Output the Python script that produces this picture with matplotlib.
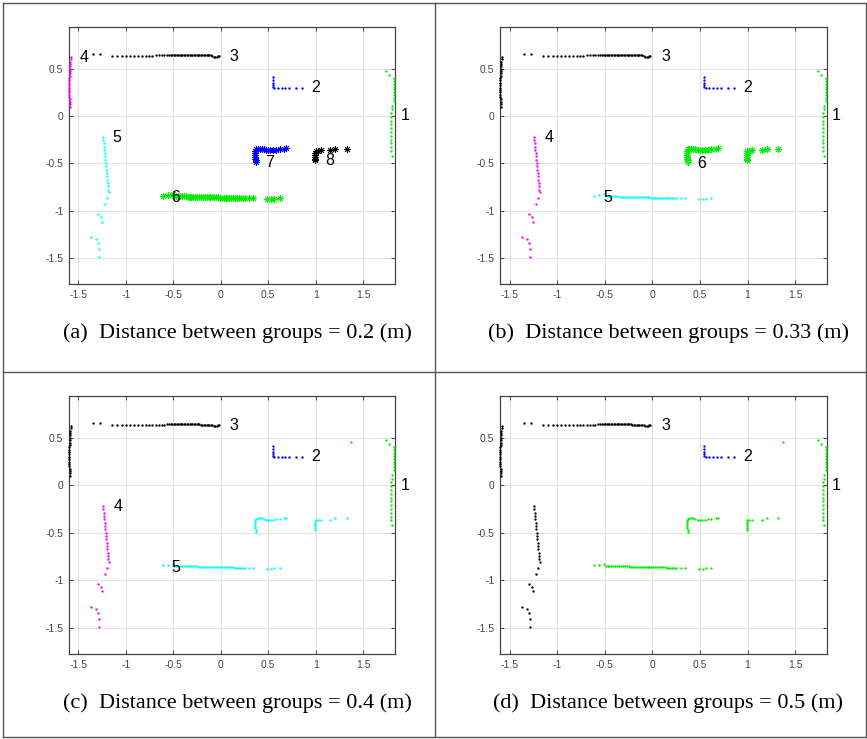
import matplotlib
matplotlib.use("Agg")
import matplotlib.pyplot as plt
from matplotlib.lines import Line2D

# ---------------- data (metres) ----------------
left_wall_x = [-1.582, -1.583, -1.585, -1.586, -1.588, -1.590, -1.591, -1.592, -1.594, -1.595, -1.596,
               -1.597, -1.598, -1.598, -1.597, -1.596, -1.596, -1.595, -1.594, -1.593, -1.592, -1.592]
left_wall_y = [0.625, 0.600, 0.575, 0.550, 0.525, 0.500, 0.475, 0.450, 0.425, 0.400, 0.375,
               0.350, 0.325, 0.300, 0.275, 0.250, 0.225, 0.200, 0.175, 0.150, 0.125, 0.100]

top_wall_x = [-1.350, -1.270, -1.151, -1.095, -1.046, -1.003, -0.961, -0.916, -0.877, -0.835, -0.793,
              -0.758, -0.723, -0.688, -0.653, -0.624, -0.597, -0.568, -0.547, -0.526,
              -0.510, -0.495, -0.480, -0.465, -0.450, -0.435, -0.420, -0.405, -0.390, -0.375,
              -0.360, -0.345, -0.330, -0.315, -0.300, -0.285, -0.270, -0.255, -0.240, -0.225,
              -0.210, -0.195, -0.180, -0.165, -0.150, -0.135, -0.120, -0.105,
              -0.090, -0.075, -0.060, -0.045, -0.030, -0.020]
top_wall_y = [0.660, 0.660, 0.633, 0.634, 0.634, 0.635, 0.635, 0.636, 0.636, 0.637, 0.637,
              0.638, 0.638, 0.639, 0.639, 0.640, 0.640, 0.641, 0.641, 0.642,
              0.645, 0.646, 0.645, 0.645, 0.644, 0.644, 0.644, 0.643, 0.643, 0.643,
              0.643, 0.642, 0.642, 0.642, 0.642, 0.641, 0.641, 0.641, 0.641, 0.641,
              0.640, 0.640, 0.640, 0.640, 0.640, 0.640, 0.639, 0.639,
              0.632, 0.627, 0.625, 0.626, 0.630, 0.635]

right_wall_x = [1.745, 1.768, 1.826, 1.826, 1.826, 1.825, 1.825, 1.825, 1.824, 1.824, 1.824,
                1.800, 1.799, 1.798, 1.798, 1.797, 1.797, 1.797, 1.797, 1.797, 1.797, 1.798,
                1.798, 1.798, 1.799]
right_wall_y = [0.477, 0.435, 0.400, 0.370, 0.340, 0.310, 0.280, 0.250, 0.220, 0.190, 0.160,
                0.110, 0.070, 0.030, -0.010, -0.050, -0.090, -0.130, -0.170, -0.210, -0.250, -0.290,
                -0.330, -0.370, -0.420]

stray_x = [1.375]
stray_y = [0.456]

corner_x = [0.545, 0.545, 0.545, 0.545, 0.545, 0.560, 0.600, 0.640, 0.680, 0.720, 0.790, 0.860]
corner_y = [0.410, 0.380, 0.350, 0.330, 0.310, 0.300, 0.295, 0.295, 0.295, 0.300, 0.300, 0.300]

post_x = [-1.239, -1.239, -1.235, -1.232, -1.228, -1.225, -1.221, -1.218, -1.214, -1.211, -1.207,
          -1.204, -1.200, -1.197, -1.193, -1.190, -1.186, -1.179,
          -1.200, -1.224, -1.292, -1.260, -1.253, -1.368, -1.316, -1.295, -1.284, -1.284]
post_y = [-0.218, -0.253, -0.288, -0.323, -0.358, -0.393, -0.428, -0.463, -0.498, -0.533, -0.568,
          -0.604, -0.639, -0.674, -0.709, -0.744, -0.779, -0.807,
          -0.870, -0.930, -1.038, -1.067, -1.116, -1.280, -1.298, -1.347, -1.407, -1.488]

bottom_x = [-0.613, -0.561, -0.509,
            -0.49, -0.47, -0.45, -0.43, -0.41, -0.39, -0.37, -0.35, -0.33, -0.31, -0.29, -0.27, -0.25,
            -0.23, -0.21, -0.19, -0.17, -0.15, -0.13, -0.11, -0.09, -0.07, -0.05, -0.03, -0.01, 0.01,
            0.03, 0.05, 0.07, 0.09, 0.11, 0.13, 0.15, 0.17, 0.19, 0.21, 0.23, 0.25,
            0.30, 0.34, 0.49, 0.53, 0.56, 0.62]
bottom_y = [-0.842, -0.835, -0.826,
            -0.846, -0.847, -0.847, -0.848, -0.849, -0.849, -0.850, -0.851, -0.851, -0.852, -0.853,
            -0.853, -0.854, -0.855, -0.855, -0.856, -0.857, -0.857, -0.858, -0.859, -0.859, -0.860,
            -0.860, -0.861, -0.862, -0.862, -0.862, -0.863, -0.863, -0.864, -0.864, -0.864, -0.865,
            -0.865, -0.865, -0.866, -0.866, -0.866,
            -0.866, -0.866, -0.877, -0.877, -0.874, -0.868]

bench1_x = [0.360, 0.360, 0.360, 0.360, 0.365, 0.370, 0.370,
            0.370, 0.390, 0.410, 0.430, 0.450, 0.480, 0.500, 0.520, 0.550, 0.580, 0.620, 0.670, 0.690]
bench1_y = [-0.370, -0.390, -0.410, -0.430, -0.450, -0.470, -0.490,
            -0.350, -0.345, -0.345, -0.345, -0.350, -0.360, -0.360, -0.360, -0.360, -0.355, -0.350,
            -0.345, -0.340]

bench2_x = [0.998, 0.995, 0.995, 0.995, 0.995, 0.995, 1.020, 1.052, 1.150, 1.202, 1.324]
bench2_y = [-0.370, -0.390, -0.410, -0.430, -0.450, -0.470, -0.365, -0.361, -0.361, -0.347, -0.344]

captions = ["(a)  Distance between groups = 0.2 (m)",
            "(b)  Distance between groups = 0.33 (m)",
            "(c)  Distance between groups = 0.4 (m)",
            "(d)  Distance between groups = 0.5 (m)"]

xticks = [-1.5, -1, -0.5, 0, 0.5, 1, 1.5]
yticks = [-1.5, -1, -0.5, 0, 0.5]
xtick_labels = ["-1.5", "-1", "-0.5", "0", "0.5", "1", "1.5"]
ytick_labels = ["-1.5", "-1", "-0.5", "0", "0.5"]

segs = {
    "left": (left_wall_x, left_wall_y), "top": (top_wall_x, top_wall_y),
    "right": (right_wall_x, right_wall_y), "stray": (stray_x, stray_y),
    "corner": (corner_x, corner_y), "post": (post_x, post_y),
    "bottom": (bottom_x, bottom_y), "bench1": (bench1_x, bench1_y), "bench2": (bench2_x, bench2_y),
}

M, C, G, B, K = "#ff00ff", "#00ffff", "#00ee00", "#0000ff", "#000000"

panel_styles = [
    [("left", M, "."), ("top", K, "."), ("right", G, "."), ("corner", B, "."), ("post", C, "."),
     ("bottom", G, "*"), ("bench1", B, "*"), ("bench2", K, "*")],
    [("left", K, "."), ("top", K, "."), ("right", G, "."), ("corner", B, "."), ("post", M, "."),
     ("bottom", C, "."), ("bench1", G, "*"), ("bench2", G, "*")],
    [("left", K, "."), ("top", K, "."), ("right", G, "."), ("stray", G, "."), ("corner", B, "."),
     ("post", M, "."), ("bottom", C, "."), ("bench1", C, "."), ("bench2", C, ".")],
    [("left", K, "."), ("top", K, "."), ("right", G, "."), ("stray", G, "."), ("corner", B, "."),
     ("post", K, "."), ("bottom", G, "."), ("bench1", G, "."), ("bench2", G, ".")],
]

panel_labels = [
    [("1", 1.90, 0.0), ("2", 0.952, 0.302), ("3", 0.093, 0.625), ("4", -1.487, 0.618),
     ("5", -1.143, -0.225), ("6", -0.52, -0.856), ("7", 0.468, -0.488), ("8", 1.10, -0.47)],
    [("1", 1.89, 0.0), ("2", 0.952, 0.300), ("3", 0.096, 0.630), ("4", -1.135, -0.232),
     ("6", 0.475, -0.497), ("5", -0.51, -0.866)],
    [("1", 1.90, 0.0), ("2", 0.952, 0.300), ("3", 0.093, 0.630), ("4", -1.135, -0.228),
     ("5", -0.52, -0.860)],
    [("1", 1.89, 0.0), ("2", 0.952, 0.300), ("3", 0.096, 0.630)],
]

# ---------------- figure ----------------
W, H = 867, 739
fig = plt.figure(figsize=(W / 100, H / 100), dpi=100)
fig.patch.set_facecolor("white")

ax_px = [(69, 27, 395, 284), (500, 27, 827, 284), (69, 396, 395, 654), (500, 396, 827, 654)]
cap_px = [(237, 333), (668, 333), (237, 703), (668, 703)]

for i in range(4):
    l, t, r, b = ax_px[i]
    ax = fig.add_axes([l / W, 1 - b / H, (r - l) / W, (b - t) / H])
    for name, col, mk in panel_styles[i]:
        xs, ys = segs[name]
        if mk == ".":
            ax.plot(xs, ys, linestyle="none", marker="o", markersize=1.7, markeredgewidth=0,
                    color=col, clip_on=False, zorder=3)
        else:
            ax.plot(xs, ys, linestyle="none", marker=(8, 2, 0), markersize=5.0, markeredgewidth=0.6,
                    color=col, clip_on=False, zorder=3)
    for txt, tx, ty in panel_labels[i]:
        ax.text(tx, ty, txt, ha="left", va="center", fontsize=11.5, family="Liberation Sans",
                color="black", clip_on=False, zorder=4)
    ax.set_xlim(-1.6, 1.835)
    ax.set_ylim(-1.775, 0.94)
    ax.set_xticks(xticks)
    ax.set_xticklabels(xtick_labels)
    ax.set_yticks(yticks)
    ax.set_yticklabels(ytick_labels)
    ax.grid(True, color="#e3e3e3", linewidth=0.8)
    ax.set_axisbelow(True)
    ax.tick_params(direction="in", length=3, width=0.7, colors="#444444", labelcolor="#444444",
                   labelsize=7.5, top=True, right=True, pad=4)
    for lab in ax.get_xticklabels() + ax.get_yticklabels():
        lab.set_family("Liberation Sans")
    for sp in ax.spines.values():
        sp.set_color("#444444")
        sp.set_linewidth(0.9)
    cx, cy = cap_px[i]
    fig.text(cx / W, 1 - cy / H, captions[i], ha="center", va="center", fontsize=16,
             family="Liberation Serif", color="black")

# table-like border lines
bcol = "#555555"
for xv in (3, 435, 865.5):
    fig.add_artist(Line2D([xv / W, xv / W], [1 - 2.5 / H, 1 - 737 / H], color=bcol, lw=1.0))
for yv in (2.5, 372, 737):
    fig.add_artist(Line2D([3 / W, 865.5 / W], [1 - yv / H, 1 - yv / H], color=bcol, lw=1.0))

fig.savefig("out.png", dpi=100)
